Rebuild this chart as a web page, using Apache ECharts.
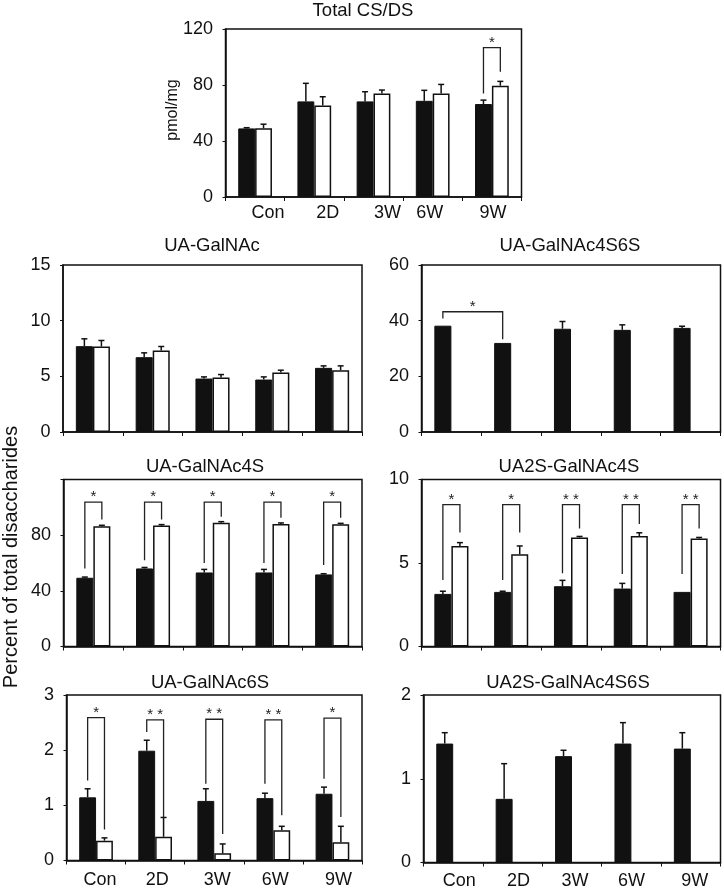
<!DOCTYPE html>
<html><head><meta charset="utf-8">
<script src="https://cdn.jsdelivr.net/npm/echarts@6/dist/echarts.min.js"></script>
<style>html,body{margin:0;padding:0;background:#fff}#c{width:724px;height:895px}</style>
</head><body><div id="c"></div>
<script>
// ---------------- data ----------------
const categories = ['Con', '2D', '3W', '6W', '9W'];

// Total CS/DS (pmol/mg)
const totalTicks = [0, 40, 80, 120];
const totalBlack = [49.0, 68.3, 68.3, 68.7, 66.4];
const totalBlackErr = [0.5, 12.9, 6.9, 7.5, 2.8];
const totalWhite = [49.1, 65.4, 74.0, 74.0, 79.5];
const totalWhiteErr = [2.9, 6.2, 2.4, 6.4, 3.1];
// bracket: [catL, sideL, yL, yTop, catR, sideR, yR]
const totalBrackets = [[4, -1, 74, 106.7, 4, 1, 89.5]];
const totalStars = ['*'];

// UA-GalNAc
const galTicks = [0, 5, 10, 15];
const galBlack = [7.71, 6.72, 4.80, 4.71, 5.76];
const galBlackErr = [0.66, 0.39, 0.15, 0.24, 0.18];
const galWhite = [7.68, 7.32, 4.89, 5.34, 5.55];
const galWhiteErr = [0.54, 0.36, 0.27, 0.21, 0.39];

// UA-GalNAc4S6S
const g46Ticks = [0, 20, 40, 60];
const g46Black = [38.2, 32.0, 37.1, 36.7, 37.4];
const g46BlackErr = [0, 0, 2.6, 1.8, 0.6];
const g46White = [null, null, null, null, null];
const g46WhiteErr = [0, 0, 0, 0, 0];
const g46Brackets = [[0, -1, 40.8, 43.2, 1, -1, 33.3]];
const g46Stars = ['*'];

// UA-GalNAc4S
const g4Ticks = [0, 40, 80, 120];
const g4TickLabels = [0, 40, 80];
const g4Black = [49.4, 56.1, 53.2, 53.2, 51.8];
const g4BlackErr = [0.5, 0.7, 2.2, 2.2, 0.5];
const g4White = [86.4, 86.9, 89.0, 88.1, 87.8];
const g4WhiteErr = [0.7, 0.7, 0.7, 0.7, 0.7];
const g4Brackets = [
  [0, -1, 56.0, 103.7, 0, 1, 91.3],
  [1, -1, 62.0, 103.7, 1, 1, 91.3],
  [2, -1, 60.0, 103.7, 2, 1, 93.2],
  [3, -1, 60.0, 103.7, 3, 1, 92.5],
  [4, -1, 58.5, 103.7, 4, 1, 92.5]
];
const g4Stars = ['*', '*', '*', '*', '*'];

// UA2S-GalNAc4S
const s4Ticks = [0, 5, 10];
const s4Black = [3.15, 3.27, 3.61, 3.47, 3.27];
const s4BlackErr = [0.16, 0.04, 0.35, 0.31, 0];
const s4White = [6.02, 5.52, 6.53, 6.61, 6.47];
const s4WhiteErr = [0.20, 0.50, 0.06, 0.20, 0.06];
const s4Brackets = [
  [0, -1, 3.98, 8.5, 0, 1, 6.83],
  [1, -1, 3.98, 8.5, 1, 1, 6.83],
  [2, -1, 4.38, 8.5, 2, 1, 7.07],
  [3, -1, 4.34, 8.5, 3, 1, 7.33],
  [4, -1, 4.34, 8.5, 4, 1, 7.07]
];
const s4Stars = ['*', '*', '**', '**', '**'];

// UA-GalNAc6S
const g6Ticks = [0, 1, 2, 3];
const g6Black = [1.145, 1.99, 1.08, 1.13, 1.21];
const g6BlackErr = [0.155, 0.19, 0.22, 0.09, 0.12];
const g6White = [0.36, 0.43, 0.13, 0.55, 0.33];
const g6WhiteErr = [0.05, 0.35, 0.17, 0.07, 0.29];
const g6Brackets = [
  [0, -1, 1.45, 2.59, 0, 1, 0.56],
  [1, -1, 2.33, 2.55, 1, 1, 0.78],
  [2, -1, 1.39, 2.56, 2, 1, 0.48],
  [3, -1, 1.39, 2.55, 3, 1, 0.82],
  [4, -1, 1.48, 2.58, 4, 1, 0.79]
];
const g6Stars = ['*', '**', '**', '**', '*'];

// UA2S-GalNAc4S6S
const s46Ticks = [0, 1, 2];
const s46Black = [1.42, 0.76, 1.27, 1.42, 1.36];
const s46BlackErr = [0.13, 0.42, 0.07, 0.25, 0.19];
const s46White = [null, null, null, null, null];
const s46WhiteErr = [0, 0, 0, 0, 0];

// ---------------- styling ----------------
const FONT = '"Liberation Sans", Arial, Helvetica, sans-serif';
const INK = '#111';
const BAR_FRAC = 0.285;

const panels = [
  { title: 'Total CS/DS', tx: 363, ty: 11, box: [225.5, 29, 296, 168], ticks: totalTicks, tickLabels: totalTicks,
    black: totalBlack, blackErr: totalBlackErr, white: totalWhite, whiteErr: totalWhiteErr,
    brackets: totalBrackets, stars: totalStars, xLabels: true, labelMargin: 7, shift: [13, 13.5, 14, -3, 1] },
  { title: 'UA-GalNAc', tx: 212, ty: 246, box: [63, 265, 299, 167], ticks: galTicks, tickLabels: galTicks,
    black: galBlack, blackErr: galBlackErr, white: galWhite, whiteErr: galWhiteErr,
    brackets: [], stars: [], xLabels: false },
  { title: 'UA-GalNAc4S6S', tx: 570, ty: 246, box: [421.5, 265, 299, 167], ticks: g46Ticks, tickLabels: g46Ticks,
    black: g46Black, blackErr: g46BlackErr, white: g46White, whiteErr: g46WhiteErr,
    brackets: g46Brackets, stars: g46Stars, xLabels: false },
  { title: 'UA-GalNAc4S', tx: 205, ty: 467, box: [63.5, 479.5, 298.5, 167], ticks: g4Ticks, tickLabels: g4TickLabels,
    black: g4Black, blackErr: g4BlackErr, white: g4White, whiteErr: g4WhiteErr,
    brackets: g4Brackets, stars: g4Stars, xLabels: false },
  { title: 'UA2S-GalNAc4S', tx: 569, ty: 467, box: [421.5, 479.5, 299, 167], ticks: s4Ticks, tickLabels: s4Ticks,
    black: s4Black, blackErr: s4BlackErr, white: s4White, whiteErr: s4WhiteErr,
    brackets: s4Brackets, stars: s4Stars, xLabels: false },
  { title: 'UA-GalNAc6S', tx: 210, ty: 683, box: [66.5, 695, 295.5, 165.5], ticks: g6Ticks, tickLabels: g6Ticks,
    black: g6Black, blackErr: g6BlackErr, white: g6White, whiteErr: g6WhiteErr,
    brackets: g6Brackets, stars: g6Stars, xLabels: true, labelMargin: 11, shift: [4, 2, 3, 2, 6] },
  { title: 'UA2S-GalNAc4S6S', tx: 568, ty: 683, box: [423.5, 695, 297, 167.5], ticks: s46Ticks, tickLabels: s46Ticks,
    black: s46Black, blackErr: s46BlackErr, white: s46White, whiteErr: s46WhiteErr,
    brackets: [], stars: [], xLabels: true, labelMargin: 10, shift: [6, 6, 3, 0, 4] }
];

function errRender(side) {
  return function (params, api) {
    const x = api.value(0), v = api.value(1), e = api.value(2);
    if (!e || isNaN(v)) return { type: 'group', children: [] };
    const base = api.coord([x, v]);
    const top = api.coord([x, v + e]);
    const bw = api.size([1, 0])[0] * BAR_FRAC;
    const cx = base[0] + side * bw / 2;
    const st = { stroke: INK, lineWidth: 1.5 };
    return { type: 'group', children: [
      { type: 'line', shape: { x1: cx, y1: base[1], x2: cx, y2: top[1] }, style: st },
      { type: 'line', shape: { x1: cx - 3, y1: top[1], x2: cx + 3, y2: top[1] }, style: st }
    ]};
  };
}

function bracketRender(stars) {
  return function (params, api) {
    const cl = api.value(0), sl = api.value(1), yl = api.value(2), yt = api.value(3);
    const cr = api.value(4), sr = api.value(5), yr = api.value(6);
    const bw = api.size([1, 0])[0] * BAR_FRAC;
    const pl = api.coord([cl, yl]), plt = api.coord([cl, yt]);
    const pr = api.coord([cr, yr]), prt = api.coord([cr, yt]);
    const xl = pl[0] + sl * bw / 2, xr = pr[0] + sr * bw / 2;
    const s = stars[params.dataIndex];
    return { type: 'group', children: [
      { type: 'polyline', shape: { points: [[xl, pl[1]], [xl, plt[1]], [xr, prt[1]], [xr, pr[1]]] },
        style: { stroke: '#222', lineWidth: 1.3, fill: null } },
      { type: 'text', x: (xl + xr) / 2, y: plt[1] - 5,
        style: { text: s.split('').join(' '), fontSize: 15, fontFamily: FONT, fill: '#222',
                 align: 'center', verticalAlign: 'middle', textAlign: 'center', textVerticalAlign: 'middle' } }
    ]};
  };
}

const grids = [], xAxes = [], yAxes = [], series = [], graphics = [];

panels.forEach((p, i) => {
  grids.push({ left: p.box[0], top: p.box[1], width: p.box[2], height: p.box[3],
    show: true, borderColor: INK, borderWidth: 1.5, backgroundColor: 'transparent', containLabel: false });

  const rich = {};
  if (p.shift) {
    p.shift.forEach((s, j) => {
      rich['s' + j] = { fontSize: 18, fontFamily: FONT, color: INK,
        padding: s >= 0 ? [0, 0, 0, 2 * s] : [0, -2 * s, 0, 0] };
    });
  }
  xAxes.push({ type: 'category', gridIndex: i, data: categories, boundaryGap: true,
    axisLine: { show: true, lineStyle: { color: INK, width: 1.5 } },
    axisTick: { show: true, length: 4, inside: false, lineStyle: { color: INK, width: 1 } },
    axisLabel: { show: p.xLabels, interval: 0, hideOverlap: false, fontSize: 18, fontFamily: FONT, color: INK,
      margin: p.labelMargin || 8,
      formatter: p.shift ? ((v, j) => '{s' + j + '|' + v + '}') : undefined, rich: rich },
    splitLine: { show: false } });

  const t = p.ticks;
  const shown = p.tickLabels;
  yAxes.push({ type: 'value', gridIndex: i, min: t[0], max: t[t.length - 1], interval: t[1] - t[0],
    axisLine: { show: true, lineStyle: { color: INK, width: 1.5 } },
    axisTick: { show: true, length: 3, lineStyle: { color: INK, width: 1 } },
    axisLabel: { fontSize: 18, fontFamily: FONT, color: INK, margin: 12.5,
      formatter: v => (shown.indexOf(v) >= 0 ? String(v) : '') },
    splitLine: { show: false } });

  series.push({ type: 'bar', xAxisIndex: i, yAxisIndex: i, data: p.black, barWidth: (BAR_FRAC * 100) + '%', barGap: '0%',
    itemStyle: { color: INK, borderColor: INK, borderWidth: 1 }, silent: true });
  series.push({ type: 'bar', xAxisIndex: i, yAxisIndex: i, data: p.white, barWidth: (BAR_FRAC * 100) + '%', barGap: '0%',
    itemStyle: { color: '#fff', borderColor: INK, borderWidth: 1.5 }, silent: true });
  series.push({ type: 'custom', xAxisIndex: i, yAxisIndex: i, z: 3, renderItem: errRender(-1), encode: { x: 0, y: 1 },
    data: p.black.map((v, j) => [j, v == null ? NaN : v, p.blackErr[j]]), silent: true });
  series.push({ type: 'custom', xAxisIndex: i, yAxisIndex: i, z: 3, renderItem: errRender(1), encode: { x: 0, y: 1 },
    data: p.white.map((v, j) => [j, v == null ? NaN : v, p.whiteErr[j]]), silent: true });
  if (p.brackets.length) {
    series.push({ type: 'custom', xAxisIndex: i, yAxisIndex: i, z: 4, renderItem: bracketRender(p.stars),
      encode: { x: 0, y: 3 }, data: p.brackets, silent: true, clip: false });
  }

  graphics.push({ type: 'text', x: p.tx, y: p.ty,
    style: { text: p.title, fontSize: 18.5, fontFamily: FONT, fill: INK,
             align: 'center', verticalAlign: 'middle', textAlign: 'center', textVerticalAlign: 'middle' } });
});

graphics.push({ type: 'text', x: 11, y: 557, rotation: Math.PI / 2,
  style: { text: 'Percent of total disaccharides', fontSize: 20, fontFamily: FONT, fill: INK,
           align: 'center', verticalAlign: 'middle', textAlign: 'center', textVerticalAlign: 'middle' } });
graphics.push({ type: 'text', x: 173, y: 110, rotation: Math.PI / 2,
  style: { text: 'pmol/mg', fontSize: 16, fontFamily: FONT, fill: INK,
           align: 'center', verticalAlign: 'middle', textAlign: 'center', textVerticalAlign: 'middle' } });

const chart = echarts.init(document.getElementById('c'), null, { renderer: 'canvas' });
chart.setOption({
  animation: false,
  backgroundColor: '#fff',
  grid: grids,
  xAxis: xAxes,
  yAxis: yAxes,
  series: series,
  graphic: graphics
});
</script>
</body></html>
